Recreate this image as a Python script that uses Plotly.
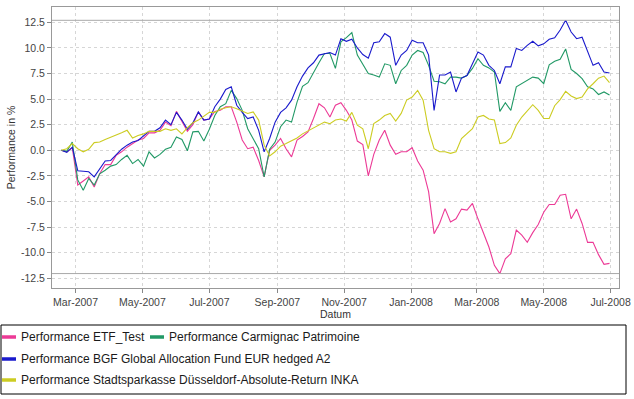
import plotly.graph_objects as go
import pandas as pd

# ---- data ----
dates = pd.date_range("2007-02-16", periods=101, freq="5D")

etf_test = [0, -0.15, 0.25, -3.4, -3.0, -2.6, -3.6, -2.3, -1.4, -1.4,
            -0.5, -0.15, 0.3, 0.65, 1.0, 1.15, 1.7, 1.7, 1.95, 2.75,
            2.4, 3.8, 2.75, 1.85, 2.5, 3.75, 2.95, 3.05, 3.8, 3.9,
            4.25, 4.25, 2.75, 1.0, 0.15, 0.3, -1.0, -2.6, 0.0, 0.5,
            1.15, 0.15, -0.65, 1.0, 1.35, 1.8, 3.1, 4.55, 4.15, 3.25,
            4.4, 4.65, 3.9, 2.95, 0.9, 0.55, -2.5, -0.4, 1.0, 1.95,
            0.5, -0.4, -0.15, -0.15, 0.25, -1.05, -1.95, -4.05, -8.15, -7.15,
            -5.7, -7.0, -6.7, -5.75, -5.85, -5.2, -6.7, -8.0, -9.45, -11.25,
            -12.05, -10.6, -10.1, -7.8, -8.3, -9.0, -8.05, -7.25, -6.05, -5.3,
            -5.3, -4.4, -4.3, -6.7, -5.75, -7.15, -9.0, -9.0, -10.2, -11.15,
            -11.05]

carmignac = [0, -0.1, 0.8, -2.9, -3.9, -2.75, -3.4, -2.3, -1.95, -1.55,
             -1.4, -0.9, -0.5, -1.3, -0.9, -1.55, -0.15, -0.75, -0.4, 0.1,
             0.3, 1.3, 1.05, -0.05, 1.8, 1.85, 0.9, 2.05, 3.4, 4.25,
             4.55, 5.85, 5.05, 3.9, 2.1, 1.15, 0.15, -2.6, 0.1, 0.8,
             2.3, 2.95, 2.75, 4.7, 6.25, 6.6, 7.65, 8.55, 9.45, 9.45,
             8.0, 10.6, 11.0, 11.5, 9.3, 8.35, 7.5, 7.35, 7.15, 8.45,
             8.3, 6.5, 7.8, 8.3, 9.3, 9.75, 9.55, 8.3, 6.75, 6.7,
             6.5, 7.15, 7.15, 7.05, 7.3, 8.0, 8.95, 8.3, 8.05, 7.65,
             3.8, 4.65, 3.9, 6.2, 6.5, 6.85, 7.15, 7.05, 6.5, 8.35,
             8.7, 8.9, 9.9, 7.9, 7.5, 7.0, 6.2, 6.0, 5.45, 5.7,
             5.4]

bgf = [0, -0.2, 0.3, -2.0, -2.05, -2.1, -2.6, -1.8, -1.05, -1.0,
       -0.4, 0.1, 0.5, 0.8, 0.95, 1.4, 1.85, 1.85, 2.2, 2.95,
       2.5, 3.7, 2.95, 2.05, 2.7, 3.75, 2.95, 3.05, 4.25, 5.0,
       5.95, 6.2, 4.4, 3.7, 3.1, 3.25, 1.95, -0.15, 1.15, 2.75,
       3.7, 4.15, 4.9, 6.2, 7.25, 8.05, 8.55, 9.3, 9.45, 9.55,
       9.3, 10.9, 10.65, 10.85, 10.0, 9.35, 9.0, 10.5, 10.6, 11.4,
       11.05, 8.3, 9.3, 9.75, 10.75, 10.5, 10.5, 9.3, 3.9, 7.35,
       7.35, 7.65, 5.7, 7.05, 7.3, 8.45, 9.6, 9.3, 8.3, 7.8,
       6.5, 8.15, 8.15, 9.95, 9.75, 10.25, 10.65, 10.2, 10.4, 10.85,
       11.0, 11.75, 12.7, 11.55, 10.9, 11.05, 9.6, 8.3, 8.55, 7.65,
       7.55]

sparkasse = [0, 0.15, 0.65, 0.15, -0.15, 0.1, 0.75, 0.8, 1.05, 1.25,
             1.45, 1.7, 1.95, 1.2, 1.45, 1.6, 1.85, 1.85, 1.85, 2.1,
             1.95, 2.1, 1.6, 2.2, 2.7, 2.95, 3.35, 3.7, 3.7, 4.0,
             4.15, 4.25, 4.05, 3.8, 3.6, 3.75, 2.95, 0.5, -0.55, -0.15,
             0.4, 0.65, 0.9, 1.2, 1.6, 1.9, 2.2, 2.5, 2.75, 2.6,
             2.95, 3.05, 2.85, 3.7, 2.45, 2.1, 0.15, 2.6, 2.95, 3.4,
             3.6, 2.85, 3.6, 4.9, 5.2, 5.85, 4.9, 1.95, 0.15, -0.15,
             -0.15, -0.3, -0.15, 1.15, 1.6, 2.1, 3.25, 3.4, 3.05, 2.95,
             0.65, 0.75, 1.2, 2.45, 3.25, 3.9, 4.45, 3.9, 3.1, 3.1,
             4.35, 4.95, 5.75, 5.3, 5.05, 5.2, 6.0, 6.5, 7.05, 7.25,
             6.6]

series_names = ["Performance ETF_Test",
                "Performance Carmignac Patrimoine",
                "Performance BGF Global Allocation Fund EUR hedged A2",
                "Performance Stadtsparkasse Düsseldorf-Absolute-Return INKA"]
series_values = [etf_test, carmignac, bgf, sparkasse]
series_colors = ["#ec3a96", "#229966", "#1a1acc", "#cccc22"]

y_ticks = [-12.5, -10.0, -7.5, -5.0, -2.5, 0.0, 2.5, 5.0, 7.5, 10.0, 12.5]

# ---- layout geometry ----
W, H = 634, 399
L, R, T, B = 52, 15, 7, 111
PW, PH = W - L - R, H - T - B


def px(x):
    return (x - L) / PW


def py(y):
    return (H - B - y) / PH


FONT = "Liberation Sans, Arial, sans-serif"

fig = go.Figure()
for name, vals, col in zip(series_names, series_values, series_colors):
    fig.add_trace(go.Scatter(x=dates, y=vals, mode="lines", name=name,
                             line=dict(color=col, width=1.1),
                             showlegend=False))

# max / min marker lines
all_vals = [v for s in series_values for v in s]
for v in (max(all_vals), min(all_vals)):
    fig.add_shape(type="line", xref="paper", yref="y", x0=0, x1=1, y0=v, y1=v,
                  line=dict(color="#a8a8a8", width=1))

# legend box (drawn manually to match the original layout)
fig.add_shape(type="rect", xref="paper", yref="paper",
              x0=px(1), x1=px(626), y0=py(325), y1=py(394),
              line=dict(color="#000000", width=1), fillcolor="rgba(0,0,0,0)")
legend_pos = [(2, 337), (150, 337), (2, 359), (2, 380)]
for (x0, yrow), name, col in zip(legend_pos, series_names, series_colors):
    fig.add_shape(type="line", xref="paper", yref="paper",
                  x0=px(x0), x1=px(x0 + 14), y0=py(yrow), y1=py(yrow),
                  line=dict(color=col, width=3.5))
    fig.add_annotation(xref="paper", yref="paper", x=px(x0 + 17), y=py(yrow),
                       text=name, showarrow=False, xanchor="left",
                       yanchor="middle",
                       font=dict(family=FONT, size=12, color="#1a1a1a"))

fig.update_layout(
    width=W, height=H,
    margin=dict(l=L, r=R, t=T, b=B, pad=0),
    paper_bgcolor="white", plot_bgcolor="white",
    font=dict(family=FONT, size=10.5, color="#444444"),
    showlegend=False,
    xaxis=dict(
        type="date",
        range=["2007-02-07 12:00", "2008-07-08 16:00"],
        tick0="2007-03-01", dtick="M2", tickformat="%b-%Y",
        ticks="outside", ticklen=4, tickcolor="#888888",
        showline=True, linecolor="#999999", mirror=True,
        showgrid=True, gridcolor="#d6d6d6", griddash="dot", gridwidth=1,
        zeroline=False, automargin=False,
        tickfont=dict(size=10.5, color="#444444"),
        title=dict(text="Datum", font=dict(size=10.5, color="#333333"),
                   standoff=2),
    ),
    yaxis=dict(
        range=[-13.46, 14.0],
        tickmode="array", tickvals=y_ticks,
        ticktext=[f"{v:.1f}" for v in y_ticks],
        ticks="outside", ticklen=4, tickcolor="#888888",
        showline=True, linecolor="#999999", mirror=True,
        showgrid=True, gridcolor="#d6d6d6", griddash="dot", gridwidth=1,
        zeroline=False, automargin=False,
        tickfont=dict(size=10.5, color="#444444"),
        title=dict(text="Performance in %", font=dict(size=10.5, color="#333333"),
                   standoff=3),
    ),
)

fig.write_html("out.html",
               config={"displayModeBar": False},
               post_script="document.body.style.margin='0';"
                           "document.body.style.overflow='hidden';")
